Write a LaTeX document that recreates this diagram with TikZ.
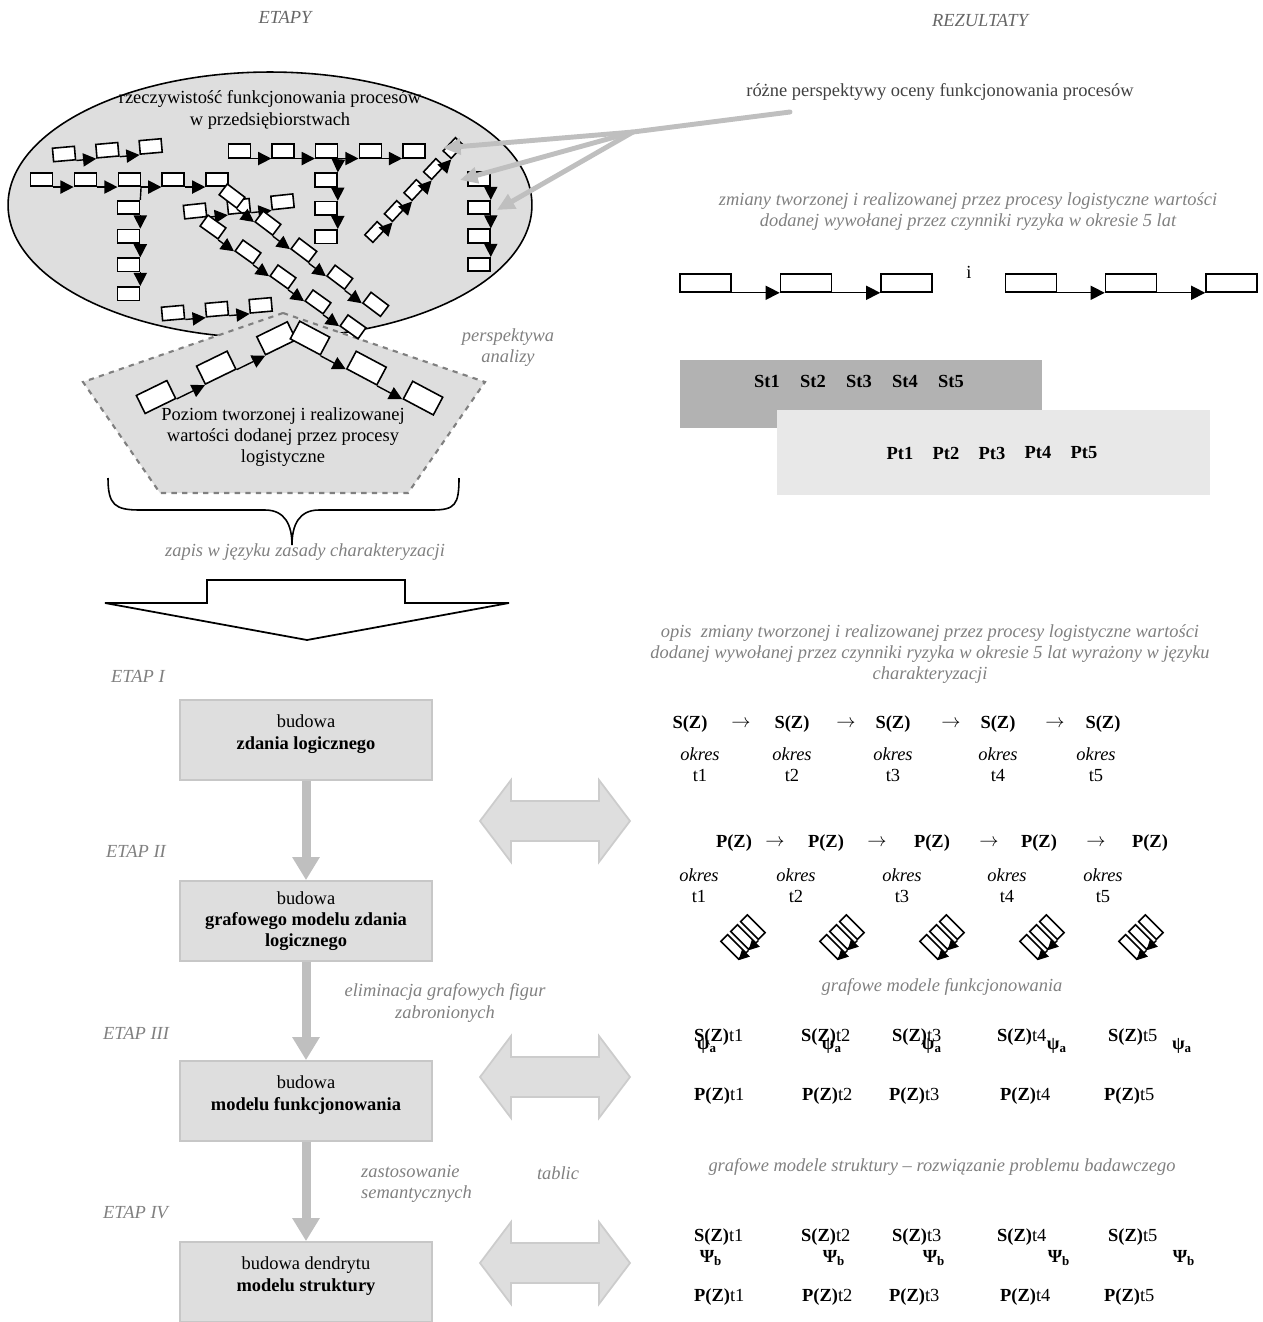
\documentclass[tikz,border=0pt]{standalone}
\usepackage{fontspec}
\setmainfont{Liberation Serif}
\usetikzlibrary{arrows.meta}
\newcommand{\basefont}{\fontsize{10.5}{12}\selectfont}
\newcommand{\lowpad}{\rule[-9pt]{0pt}{9pt}}

\begin{document}
\begin{tikzpicture}[x=0.02cm,y=0.02cm,font=\basefont,
  proc/.style={draw,fill=white,line width=0.9pt,minimum width=0.44cm,minimum height=0.27cm,inner sep=0pt},
  smallproc/.style={proc,minimum width=0.36cm,minimum height=0.22cm},
  bigproc/.style={proc,minimum width=0.68cm,minimum height=0.4cm},
  tinyproc/.style={proc,line width=0.9pt,minimum width=0.5cm,minimum height=0.19cm},
  flow/.style={-{Triangle[length=7.5pt,width=7.5pt]},line width=0.8pt},
  note/.style={text=black!50,font=\basefont\itshape,align=center},
  stagebox/.style={draw=black!22,line width=1pt,fill=black!13,minimum width=5.04cm,minimum height=1.6cm,align=center},
  stagearrow/.style={draw=black!25,line width=0.18cm,-{Triangle[length=0.46cm,width=0.52cm]}},
  persp/.style={draw=black!25,line width=2.8pt},
  dbl/.style={fill=black!13,draw=black!20,line width=1pt}]
\useasboundingbox (0,0) rectangle (1262,-1322);

% naglowki
\node[text=black!60,font=\basefont\itshape] (etapy) at (285,-17) {ETAPY};
\node[text=black!60,font=\basefont\itshape] (rezultaty) at (980,-20) {REZULTATY};

% rzeczywistosc
\draw[line width=0.9pt,fill=black!13] (270,-205) ellipse [x radius=5.24cm,y radius=2.66cm];
\draw[line width=1.2pt,dashed,draw=black!50,fill=black!13] (283,-313) -- (485,-382) -- (408,-493) -- (160,-493) -- (83,-382) -- cycle;

\begin{scope}[shift={(64,-154)},rotate=5,transform shape]
  \foreach \k in {1,2,3} \node[proc] (a\k) at ({(\k-1)*43.5},0) {};
  \foreach \k [count=\j from 2] in {1,2} \draw[flow] (a\k.south east) -- (a\j.south west);
\end{scope}
\foreach \k in {1,...,5} \node[proc] (b\k) at ({41.5+(\k-1)*43.9},-179.5) {};
\foreach \k [count=\j from 2] in {1,...,4} \draw[flow] (b\k.south east) -- (b\j.south west);
\foreach \k in {1,...,4} \node[proc] (c\k) at (128.5,{-207.5-(\k-1)*28.7}) {};
\draw[line width=0.8pt] (b3.south east) -- (c1.north east);
\foreach \k [count=\j from 2] in {1,...,3} \draw[flow] (c\k.south east) -- (c\j.north east);
\foreach \k in {1,...,5} \node[proc] (d\k) at ({239.5+(\k-1)*43.6},-151) {};
\foreach \k [count=\j from 2] in {1,...,4} \draw[flow] (d\k.south east) -- (d\j.south west);
\foreach \k in {1,2,3} \node[proc] (e\k) at (326,{-180-(\k-1)*28.3}) {};
\draw[flow] (d3.south east) -- (e1.north east);
\foreach \k [count=\j from 2] in {1,2} \draw[flow] (e\k.south east) -- (e\j.north east);
\foreach \k in {1,...,4} \node[proc] (f\k) at (479,{-179-(\k-1)*28.5}) {};
\foreach \k [count=\j from 2] in {1,...,3} \draw[flow] (f\k.south east) -- (f\j.north east);

\begin{scope}[shift={(375,-232)},rotate=47,transform shape]
  \foreach \k in {1,...,5} \node[smallproc] (g\k) at ({(\k-1)*28.7},0) {};
  \foreach \k [count=\j from 2] in {1,...,4} \draw[flow] (g\k.south east) -- (g\j.south west);
\end{scope}
\begin{scope}[shift={(195,-211)},rotate=6,transform shape]
  \foreach \k in {1,2,3} \node[proc] (i\k) at ({(\k-1)*44},0) {};
  \foreach \k [count=\j from 2] in {1,2} \draw[flow] (i\k.south east) -- (i\j.south west);
\end{scope}
\begin{scope}[shift={(232,-196)},rotate=-37,transform shape]
  \foreach \k in {1,...,5} \node[proc] (h\k) at ({(\k-1)*45},0) {};
  \foreach \k [count=\j from 2] in {1,...,4} \draw[flow] (h\k.south east) -- (h\j.south west);
\end{scope}
\begin{scope}[shift={(213,-227)},rotate=-35.5,transform shape]
  \foreach \k in {1,...,5} \node[proc] (k\k) at ({(\k-1)*43},0) {};
  \foreach \k [count=\j from 2] in {1,...,4} \draw[flow] (k\k.south east) -- (k\j.south west);
\end{scope}
\begin{scope}[shift={(173,-313)},rotate=5,transform shape]
  \foreach \k in {1,2,3} \node[proc] (j\k) at ({(\k-1)*44},0) {};
  \foreach \k [count=\j from 2] in {1,2} \draw[flow] (j\k.south east) -- (j\j.south west);
\end{scope}

% poziom wartosci dodanej
\begin{scope}[shift={(156,-397)},rotate=26,transform shape]
  \foreach \k in {1,2,3} \node[bigproc] (u\k) at ({(\k-1)*67},0) {};
  \foreach \k [count=\j from 2] in {1,2} \draw[flow] (u\k.south east) -- (u\j.south west);
\end{scope}
\begin{scope}[shift={(310,-338)},rotate=-28,transform shape]
  \foreach \k in {1,2,3} \node[bigproc] (v\k) at ({(\k-1)*64},0) {};
  \foreach \k [count=\j from 2] in {1,2} \draw[flow] (v\k.south east) -- (v\j.south west);
\end{scope}

\node[align=center] (real) at (270,-110) {rzeczywistość funkcjonowania procesów\\w przedsiębiorstwach};
\node[align=center] (level) at (283,-437) {Poziom tworzonej i realizowanej\\wartości dodanej przez procesy\\logistyczne};
\node[note] (persp) at (508,-348) {perspektywa\\analizy};

% rozne perspektywy
\node[text=black!75] (views) at (940,-92) {różne perspektywy oceny funkcjonowania procesów};
\coordinate (src) at (790,-112);
\coordinate (hub) at (633,-132);
\coordinate (t1) at (443,-148);
\coordinate (t2) at (460,-180);
\coordinate (t3) at (497,-210);
\draw[persp,line cap=round] (src) -- (hub);
\foreach \t in {t1,t2,t3} \draw[persp,-{Triangle[length=10pt,width=9pt]}] (hub) -- (\t);

% klamra i strzalka
\draw[line width=0.9pt] (108,-478) .. controls (108,-505) and (115,-510) .. (140,-510) -- (265,-510) .. controls (285,-510) and (292,-525) .. (292,-545) .. controls (292,-525) and (299,-510) .. (319,-510) -- (432,-510) .. controls (455,-510) and (459,-505) .. (459,-478);
\node[note] (zapis) at (305,-552) {zapis w języku zasady charakteryzacji};
\draw[line width=1pt,fill=white] (207,-580) -- (405,-580) -- (405,-603) -- (509,-603) -- (307,-640) -- (105,-603) -- (207,-603) -- cycle;

% etapy
\node[note,anchor=west] (e1) at (105,-676) {ETAP I};
\node[note,anchor=west] (e2) at (100,-851) {ETAP II};
\node[note,anchor=west] (e3) at (97,-1033) {ETAP III};
\node[note,anchor=west] (e4) at (97,-1213) {ETAP IV};
\node[stagebox] (s1) at (306,-740) {budowa\\\textbf{zdania logicznego}\lowpad};
\node[stagebox] (s2) at (306,-921) {budowa\\\textbf{grafowego modelu zdania}\\\textbf{logicznego}};
\node[stagebox] (s3) at (306,-1101) {budowa\\\textbf{modelu funkcjonowania}\lowpad};
\node[stagebox] (s4) at (306,-1282) {budowa dendrytu\\\textbf{modelu struktury}\lowpad};
\draw[stagearrow] (s1) -- (s2);
\draw[stagearrow] (s2) -- (s3);
\draw[stagearrow] (s3) -- (s4);
\node[note] (elim) at (445,-1003) {eliminacja grafowych figur\\zabronionych};
\node[note,align=left,anchor=west] (zast) at (355,-1184) {zastosowanie\\semantycznych};
\node[note] (tablic) at (558,-1173) {tablic};
\foreach \y in {821,1077,1263}
  \draw[dbl] (480,-\y) -- ++(31,41) -- ++(0,-21) -- ++(88,0) -- ++(0,21) -- ++(31,-41) -- ++(-31,-41) -- ++(0,21) -- ++(-88,0) -- ++(0,-21) -- cycle;

% rezultaty
\node[note] (zmiany) at (968,-212) {zmiany tworzonej i realizowanej przez procesy logistyczne wartości\\dodanej wywołanej przez czynniki ryzyka w okresie 5 lat};
\foreach \x [count=\i] in {705.5,806,906.5,1031,1131,1231.5}
  \node[proc,minimum width=1.02cm,minimum height=0.36cm] (r\i) at (\x,-283) {};
\foreach \k/\j in {1/2,2/3,4/5,5/6}
  \draw[-{Triangle[length=8pt,width=8pt]},line width=0.8pt] (r\k.south east) -- (r\j.south west);
\node (and) at (969,-272) {i};

\fill[black!30] (680,-360) rectangle (1042,-428);
\fill[black!9] (777,-410) rectangle (1210,-495);
\foreach \i in {1,...,5} \node (st\i) at ({767+(\i-1)*46},-381) {\textbf{St\i}};
\foreach \i in {1,...,5} \node (pt\i) at ({900+(\i-1)*46},-453) {\textbf{Pt\i}};

\node[note] (opis) at (930,-654) {opis\ \ zmiany tworzonej i realizowanej przez procesy logistyczne wartości\\dodanej wywołanej przez czynniki ryzyka w okresie 5 lat wyrażony w języku\\charakteryzacji};
\foreach \x [count=\i] in {690,792,893,998,1103} \node (sz\i) at (\x,-724) {\textbf{S(Z)}};
\foreach \x [count=\i] in {741,846,951,1055} \node (sa\i) at (\x,-724) {$\rightarrow$};
\foreach \x [count=\i] in {700,792,893,998,1096} \node[align=center] (so\i) at (\x,-765) {\textit{okres}\\t\i};
\foreach \x [count=\i] in {734,826,932,1039,1150} \node (pz\i) at (\x,-843) {\textbf{P(Z)}};
\foreach \x [count=\i] in {775,877,989,1096} \node (pa\i) at (\x,-843) {$\rightarrow$};
\foreach \x [count=\i] in {699,796,902,1007,1103} \node[align=center] (po\i) at (\x,-886) {\textit{okres}\\t\i};

\foreach \x [count=\i] in {743,842,942,1042,1141}{
  \begin{scope}[shift={(\x,-937)},rotate=-45,transform shape]
    \foreach \k in {1,2,3} \node[tinyproc] (m\i\k) at (0,{14-(\k-1)*14}) {};
    \draw[-{Triangle[length=6pt,width=6pt]},line width=0.8pt] (m\i1.south east) -- (m\i2.south east);
    \draw[-{Triangle[length=6pt,width=6pt]},line width=0.8pt] (m\i2.south east) -- (m\i3.south east);
  \end{scope}}
\node[note] (funk) at (942,-987) {grafowe modele funkcjonowania};

\foreach \x [count=\i] in {688,795,886,991,1102} \node[anchor=west] (sa\i) at (\x,-1037) {\textbf{S(Z)}t\i};
\foreach \x [count=\i] in {707,832,932,1057,1182} \node (psa\i) at (\x,-1046) {\textbf{ψ\textsubscript{a}}};
\foreach \x [count=\i] in {688,796,883,994,1098} \node[anchor=west] (pa\i) at (\x,-1096) {\textbf{P(Z)}t\i};
\node[note] (strukt) at (942,-1167) {grafowe modele struktury – rozwiązanie problemu badawczego};
\foreach \x [count=\i] in {688,795,886,991,1102} \node[anchor=west] (sb\i) at (\x,-1237) {\textbf{S(Z)}t\i};
\foreach \x [count=\i] in {711,834,934,1059,1184} \node (psb\i) at (\x,-1258) {\textbf{Ψ\textsubscript{b}}};
\foreach \x [count=\i] in {688,796,883,994,1098} \node[anchor=west] (pb\i) at (\x,-1297) {\textbf{P(Z)}t\i};
\end{tikzpicture}
\end{document}
